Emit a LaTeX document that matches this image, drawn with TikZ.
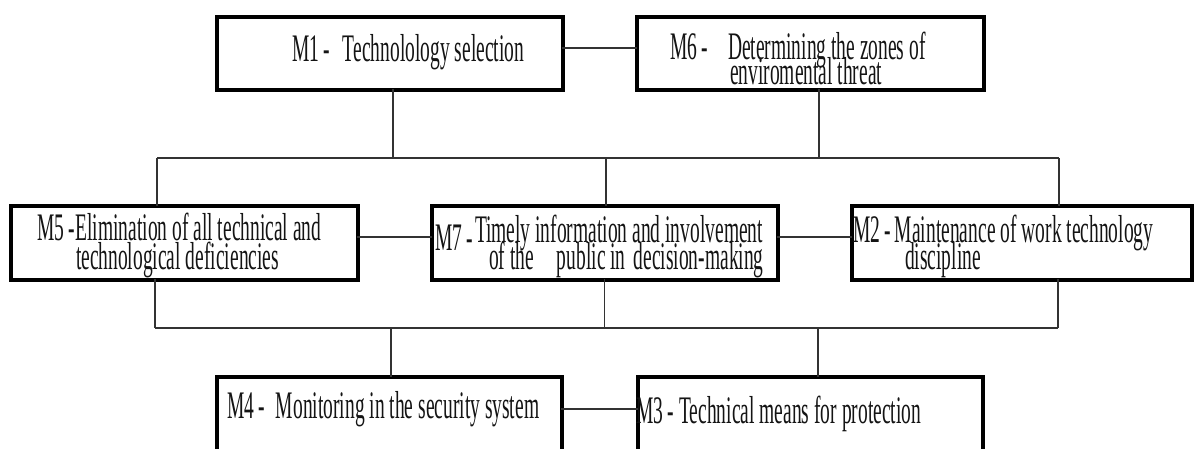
\documentclass[tikz,border=0pt]{standalone}
\usepackage{fontspec}
\setmainfont{Liberation Serif}[FakeStretch=0.5]
\begin{document}
\begin{tikzpicture}[x=1pt,y=-1pt]
\tikzset{
  box/.style={draw=black, line width=3.5pt, inner sep=0pt, outer sep=0pt, fill=white},
  boxedge/.style={line width=2.5pt, line cap=butt, line join=miter},
  conn/.style={line width=1.7pt, draw=black!80},
  lbl/.style={anchor=base west, inner sep=0pt, outer sep=0pt, text=black!92,
              font=\fontsize{39}{28}\selectfont},
}
\useasboundingbox (0,0) rectangle (1194,448);
\clip (0,0) rectangle (1194,448);

% measure boxes
\node[box, minimum width=345.5pt, minimum height=72.5pt] (M1) at (389.5,53) {};
\node[box, minimum width=346.5pt, minimum height=72.5pt] (M6) at (810,53) {};
\node[box, minimum width=346.5pt, minimum height=73.5pt] (M5) at (184,242.5) {};
\node[box, minimum width=345.5pt, minimum height=73.5pt] (M7) at (604.5,242.5) {};
\node[box, minimum width=339.5pt, minimum height=73.5pt] (M2) at (1021.5,242.5) {};
\node[box, minimum width=344.5pt, minimum height=75.5pt] (M4) at (389,414.5) {};
\node[box, minimum width=344.5pt, minimum height=75.5pt] (M3) at (810,414.5) {};

% heavier right and bottom edges of each box
\foreach \b in {M1,M6,M5,M7,M2,M4,M3}{
  \draw[boxedge] ([shift={(1.5pt,1.75pt)}]\b.north east)
    -- ([shift={(1.5pt,-1.5pt)}]\b.south east)
    -- ([shift={(-1.75pt,-1.5pt)}]\b.south west);
}

% bus lines
\coordinate (tl) at (157,158);
\coordinate (tr) at (1059,158);
\coordinate (bl) at (155,328);
\coordinate (br) at (1058,328);

% top row
\draw[conn] ([yshift=5pt]M1.east) -- ([yshift=5pt]M6.west);
\draw[conn] ([xshift=3.5pt]M1.south) -- ([xshift=3.5pt]M1.south |- tl);
\draw[conn] ([xshift=9pt]M6.south) -- ([xshift=9pt]M6.south |- tl);
\draw[conn] (tl) -- (tr);

% middle row
\draw[conn] (tl) -- (tl |- M5.north);
\draw[conn] ([xshift=1.5pt]M7.north |- tl) -- ([xshift=1.5pt]M7.north);
\draw[conn] (tr) -- (tr |- M2.north);
\draw[conn] ([yshift=5.5pt]M5.east) -- ([yshift=5.5pt]M7.west);
\draw[conn] ([yshift=5.5pt]M7.east) -- ([yshift=5.5pt]M2.west);

% lower bus
\draw[conn] (bl |- M5.south) -- (bl);
\draw[conn] (M7.south) -- (M7.south |- bl);
\draw[conn] (br |- M2.south) -- (br);
\draw[conn] (bl) -- (br);

% bottom row
\draw[conn] ([xshift=2pt]M4.north |- bl) -- ([xshift=2pt]M4.north);
\draw[conn] ([xshift=8pt]M3.north |- bl) -- ([xshift=8pt]M3.north);
\draw[conn] ([yshift=5.5pt]M4.east) -- ([yshift=5.5pt]M3.west);

% labels
\node[lbl] (t1) at (292,61) {\makebox[51pt][l]{M1 -}Technolology selection};
\node[lbl] (t6a) at (670,59) {\makebox[58pt][l]{M6 -}Determining the zones of};
\node[lbl] (t6b) at (730,84) {enviromental threat};
\node[lbl] (t5a) at (37,240) {M5 -Elimination of all technical and};
\node[lbl] (t5b) at (76,269) {technological deficiencies};
\node[lbl] (t7p) at (435,250) {M7 -};
\node[lbl] (t7a) at (475,242) {Timely information and involvement};
\node[lbl] (t7b) at (489,269) {of the\hspace{23pt}public in\hspace{8pt}decision-making};
\node[lbl] (t2a) at (853,242) {\makebox[42pt][l]{M2 -}Maintenance of work technology};
\node[lbl] (t2b) at (905,269) {discipline};
\node[lbl] (t4) at (227,418) {\makebox[49pt][l]{M4 -}Monitoring in the security system};
\node[lbl] (t3) at (636,423) {M3 - Technical means for protection};
\end{tikzpicture}
\end{document}
